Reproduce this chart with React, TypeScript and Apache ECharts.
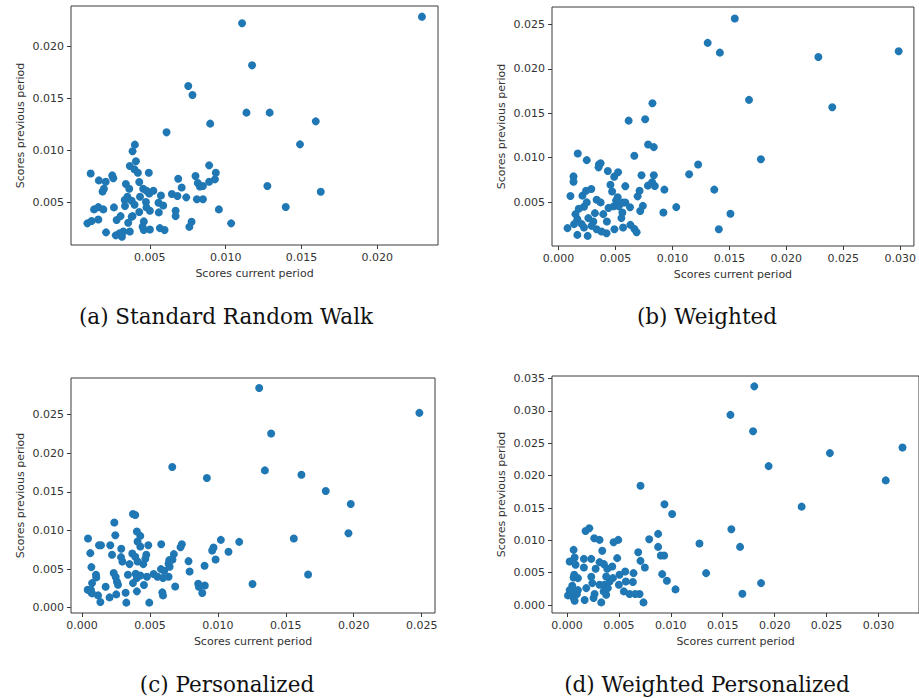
import React, { useEffect, useRef } from "react";
import * as echarts from "echarts";

// ---------- data (x = score current period, y = score previous period) ----------
const standardRW: [number, number][] = [
  [0.02294, 0.0229], [0.01108, 0.02226], [0.01174, 0.0182], [0.00753, 0.0162], [0.00781, 0.01534],
  [0.01137, 0.01363], [0.0129, 0.01363], [0.01594, 0.01279], [0.00898, 0.01257], [0.0061, 0.01173],
  [0.0149, 0.01057], [0.01275, 0.00655], [0.01627, 0.006], [0.01396, 0.00452], [0.01036, 0.00294],
  [0.00955, 0.00429], [0.00891, 0.00854], [0.00935, 0.00783], [0.00929, 0.00719], [0.00891, 0.00696],
  [0.00801, 0.00751], [0.00816, 0.00684], [0.0083, 0.0065], [0.0085, 0.00655], [0.0081, 0.00526],
  [0.0085, 0.00526], [0.00687, 0.00725], [0.0071, 0.00641], [0.00645, 0.00577], [0.00682, 0.00558],
  [0.0074, 0.00545], [0.0067, 0.00416], [0.0067, 0.00364], [0.00775, 0.0031], [0.0076, 0.0026],
  [0.00573, 0.00563], [0.00557, 0.00493], [0.00588, 0.00467], [0.00559, 0.004], [0.00566, 0.00248],
  [0.00597, 0.00229], [0.00493, 0.00783], [0.00523, 0.00609], [0.00496, 0.00583], [0.005, 0.00416],
  [0.005, 0.00235], [0.00401, 0.01054], [0.00386, 0.0099], [0.00408, 0.00893], [0.00368, 0.00848],
  [0.00399, 0.00815], [0.00421, 0.00783], [0.0043, 0.00693], [0.00342, 0.00674], [0.00364, 0.00628],
  [0.00456, 0.00628], [0.00478, 0.00609], [0.00435, 0.00551], [0.00352, 0.00551], [0.00334, 0.00519],
  [0.0038, 0.00513], [0.00399, 0.00474], [0.00336, 0.00461], [0.00474, 0.005], [0.00478, 0.00448],
  [0.0043, 0.00403], [0.00386, 0.00364], [0.00357, 0.003], [0.0046, 0.00313], [0.00452, 0.00261],
  [0.0046, 0.0023], [0.00368, 0.00216], [0.00325, 0.00216], [0.00299, 0.00197], [0.00275, 0.00178],
  [0.00281, 0.00326], [0.00307, 0.00364], [0.00263, 0.00448], [0.00252, 0.00757], [0.00259, 0.0073],
  [0.00209, 0.00696], [0.00164, 0.00709], [0.00197, 0.00628], [0.00188, 0.00602], [0.0011, 0.00776],
  [0.00132, 0.00429], [0.0016, 0.00451], [0.00193, 0.00429], [0.0016, 0.00332], [0.00116, 0.00316],
  [0.00088, 0.00294], [0.00211, 0.00207], [0.00316, 0.00165], [0.0038, 0.00358],
];

const weighted: [number, number][] = [
  [0.01547, 0.02568], [0.01309, 0.02293], [0.01416, 0.02183], [0.02986, 0.02198], [0.02281, 0.02134],
  [0.01672, 0.01651], [0.02403, 0.01568], [0.00824, 0.01613], [0.00615, 0.01417], [0.0076, 0.01432],
  [0.00786, 0.01149], [0.00836, 0.01119], [0.00665, 0.01021], [0.00168, 0.01047], [0.00247, 0.00972],
  [0.00354, 0.00923], [0.00369, 0.00938], [0.00351, 0.00891], [0.01776, 0.00983], [0.01225, 0.00923],
  [0.01146, 0.00813], [0.01367, 0.0064], [0.00929, 0.0064], [0.01033, 0.00443], [0.0092, 0.00383],
  [0.01509, 0.00368], [0.01407, 0.00194], [0.00728, 0.00802], [0.00836, 0.00802], [0.00821, 0.00723],
  [0.00784, 0.00685], [0.00845, 0.00681], [0.00711, 0.00628], [0.00694, 0.00564], [0.0074, 0.00457],
  [0.00717, 0.004], [0.00586, 0.00679], [0.00522, 0.00836], [0.00488, 0.00786], [0.00432, 0.0085],
  [0.00455, 0.00694], [0.0047, 0.00619], [0.00519, 0.00555], [0.00566, 0.00495], [0.00485, 0.00453],
  [0.00438, 0.00434], [0.00528, 0.00453], [0.00627, 0.00442], [0.0056, 0.00383], [0.00551, 0.00319],
  [0.00566, 0.00213], [0.0063, 0.00243], [0.00665, 0.00198], [0.00685, 0.0016], [0.0049, 0.00194],
  [0.00424, 0.00281], [0.00421, 0.00149], [0.00377, 0.00168], [0.00334, 0.00194], [0.00305, 0.00281],
  [0.00319, 0.00375], [0.00334, 0.00526], [0.00369, 0.00496], [0.00287, 0.00647], [0.00241, 0.00628],
  [0.00209, 0.00572], [0.00247, 0.00496], [0.00223, 0.00447], [0.00177, 0.00425], [0.00148, 0.00364],
  [0.00165, 0.00307], [0.00136, 0.00251], [0.00078, 0.00206], [0.00165, 0.0013], [0.00255, 0.00119],
  [0.00223, 0.00213], [0.00261, 0.00319], [0.00131, 0.00789], [0.00131, 0.00729], [0.00104, 0.00568],
  [0.0029, 0.00232], [0.00392, 0.00364], [0.00203, 0.00251], [0.00586, 0.00495], [0.00505, 0.00519],
];

const personalized: [number, number][] = [
  [0.01304, 0.02844], [0.02483, 0.02522], [0.01392, 0.02255], [0.00664, 0.0182], [0.01346, 0.01777],
  [0.01615, 0.01721], [0.00919, 0.01678], [0.01794, 0.0151], [0.01978, 0.01343], [0.01961, 0.00964],
  [0.01559, 0.00895], [0.01664, 0.0043], [0.01255, 0.00306], [0.01157, 0.00852], [0.01022, 0.00878],
  [0.01078, 0.00723], [0.00968, 0.00779], [0.00958, 0.0074], [0.00983, 0.00624], [0.00902, 0.00542],
  [0.00904, 0.00288], [0.00855, 0.0031], [0.0086, 0.00271], [0.00885, 0.00189], [0.00784, 0.00602],
  [0.00792, 0.00469], [0.00735, 0.00822], [0.00725, 0.00783], [0.00676, 0.00693], [0.00666, 0.00624],
  [0.00642, 0.00615], [0.00645, 0.00529], [0.00637, 0.004], [0.00686, 0.00275], [0.00583, 0.00822],
  [0.00581, 0.00499], [0.00605, 0.00478], [0.00596, 0.00383], [0.00556, 0.004], [0.00527, 0.00435],
  [0.00591, 0.00198], [0.00596, 0.00159], [0.00495, 0.00065], [0.00478, 0.004], [0.00456, 0.00293],
  [0.00488, 0.00809], [0.00473, 0.00684], [0.00466, 0.00633], [0.00451, 0.00564], [0.00429, 0.00929],
  [0.00429, 0.00792], [0.00404, 0.00985], [0.00409, 0.00856], [0.00375, 0.01213], [0.00392, 0.012],
  [0.0037, 0.00701], [0.00392, 0.00658], [0.00409, 0.00598], [0.0035, 0.00564], [0.00338, 0.00426],
  [0.00395, 0.00439], [0.00404, 0.00383], [0.00429, 0.00417], [0.00375, 0.00318], [0.00404, 0.00211],
  [0.00321, 0.00194], [0.00326, 0.00065], [0.00287, 0.00654], [0.00297, 0.00598], [0.00289, 0.00762],
  [0.00238, 0.01102], [0.00245, 0.00938], [0.00208, 0.00809], [0.00221, 0.00684], [0.00233, 0.00448],
  [0.00248, 0.00396], [0.00257, 0.00336], [0.00265, 0.00297], [0.00252, 0.00172], [0.00174, 0.00271],
  [0.00203, 0.00133], [0.00125, 0.00809], [0.0014, 0.00809], [0.00061, 0.00706], [0.00044, 0.00895],
  [0.00069, 0.00525], [0.00103, 0.00426], [0.00105, 0.00392], [0.00074, 0.00318], [0.00061, 0.00211],
  [0.00042, 0.00232], [0.00074, 0.00185], [0.00118, 0.00159], [0.00135, 0.00073], [0.00066, 0.00228],
  [0.00637, 0.00572],
];

const weightedPersonalized: [number, number][] = [
  [0.01804, 0.03381], [0.01574, 0.0294], [0.01792, 0.02688], [0.03231, 0.02436], [0.02532, 0.02349],
  [0.01942, 0.02148], [0.0307, 0.01927], [0.0226, 0.01521], [0.00708, 0.01845], [0.00939, 0.01557],
  [0.01013, 0.01408], [0.01583, 0.01172], [0.01276, 0.00951], [0.01667, 0.00899], [0.0134, 0.00493],
  [0.01869, 0.00339], [0.01689, 0.00175], [0.01045, 0.00242], [0.00878, 0.011], [0.00792, 0.01018],
  [0.00878, 0.00899], [0.00904, 0.00766], [0.00936, 0.00766], [0.00917, 0.00478], [0.00962, 0.00375],
  [0.00686, 0.00817], [0.00708, 0.00683], [0.0075, 0.00581], [0.00737, 0.00041], [0.00699, 0.0017],
  [0.00641, 0.00493], [0.00635, 0.00355], [0.00561, 0.00519], [0.00494, 0.01007], [0.00449, 0.00971],
  [0.00484, 0.00725], [0.00506, 0.00468], [0.005, 0.00313], [0.00548, 0.00211], [0.00603, 0.0017],
  [0.00657, 0.0017], [0.00567, 0.00365], [0.00436, 0.00596], [0.0041, 0.00365], [0.00378, 0.00159],
  [0.00388, 0.0056], [0.00356, 0.00632], [0.00314, 0.00663], [0.0034, 0.00838], [0.00314, 0.01007],
  [0.00263, 0.01033], [0.00215, 0.01187], [0.00179, 0.01146], [0.00276, 0.0056], [0.00234, 0.00714],
  [0.00163, 0.00714], [0.00163, 0.00581], [0.00234, 0.00437], [0.00244, 0.00339], [0.00314, 0.00313],
  [0.00362, 0.00313], [0.00353, 0.00211], [0.00266, 0.0017], [0.00256, 0.00108], [0.00186, 0.00262],
  [0.0017, 0.00077], [0.0033, 0.00041], [0.00064, 0.00853], [0.00074, 0.00735], [0.00026, 0.00673],
  [0.00083, 0.00622], [0.0007, 0.00468], [0.00064, 0.00427], [0.00106, 0.00416], [0.00051, 0.00298],
  [0.00042, 0.00211], [0.0001, 0.00149], [0.00064, 0.00108], [0.00074, 0.00067], [0.00096, 0.0017],
  [0.00106, 0.00231], [0.00026, 0.00231], [0.00442, 0.00416], [0.00378, 0.00442], [0.00394, 0.00262],
];

// ---------- tick labels ----------
const ticksAX = [0.005, 0.01, 0.015, 0.02];
const ticksAY = [0.005, 0.01, 0.015, 0.02];
const ticksBX = [0, 0.005, 0.01, 0.015, 0.02, 0.025, 0.03];
const ticksBY = [0.005, 0.01, 0.015, 0.02, 0.025];
const ticksCX = [0, 0.005, 0.01, 0.015, 0.02, 0.025];
const ticksCY = [0, 0.005, 0.01, 0.015, 0.02, 0.025];
const ticksDX = [0, 0.005, 0.01, 0.015, 0.02, 0.025, 0.03];
const ticksDY = [0, 0.005, 0.01, 0.015, 0.02, 0.025, 0.03, 0.035];

const captions = ["(a) Standard Random Walk", "(b) Weighted", "(c) Personalized", "(d) Weighted Personalized"];
const xName = "Scores current period";
const yName = "Scores previous period";

// ---------- layout ----------
const panels = [
  { data: standardRW, tx: ticksAX, ty: ticksAY, grid: { left: 71, top: 6, width: 367, height: 239 }, xr: [-0.0002, 0.024], yr: [0.00085, 0.02393], cap: [226, 316] },
  { data: weighted, tx: ticksBX, ty: ticksBY, grid: { left: 552, top: 7, width: 365, height: 239 }, xr: [-0.00058, 0.0312], yr: [0.00005, 0.02697], cap: [707, 316] },
  { data: personalized, tx: ticksCX, ty: ticksCY, grid: { left: 71, top: 378, width: 364, height: 235 }, xr: [-0.00081, 0.02598], yr: [-0.00069, 0.02973], cap: [227, 684] },
  { data: weightedPersonalized, tx: ticksDX, ty: ticksDY, grid: { left: 552, top: 376, width: 368, height: 237 }, xr: [-0.00144, 0.0339], yr: [-0.00123, 0.03541], cap: [707, 684] },
];

const TEXT = "#333333";
const AXIS = "#3a3a3a";
const fmt = (v: number) => v.toFixed(3);

export default function App() {
  const ref = useRef<HTMLDivElement>(null);
  useEffect(() => {
    if (!ref.current) return;
    const chart = echarts.init(ref.current, undefined, { renderer: "svg" });
    const option: any = {
      animation: false,
      backgroundColor: "#ffffff",
      grid: panels.map((p) => ({
        ...p.grid,
        show: true,
        borderColor: AXIS,
        borderWidth: 1,
        backgroundColor: "transparent",
        containLabel: false,
      })),
      xAxis: panels.map((p, i) => ({
        type: "value",
        gridIndex: i,
        position: "bottom",
        min: p.xr[0],
        max: p.xr[1],
        name: xName,
        nameLocation: "middle",
        nameGap: 23,
        nameTextStyle: { fontFamily: "DejaVu Sans", fontSize: 11, color: TEXT },
        axisLine: { show: false, onZero: false },
        axisTick: { show: true, inside: false, length: 4, lineStyle: { color: AXIS }, customValues: p.tx },
        axisLabel: { show: true, fontFamily: "DejaVu Sans", fontSize: 11, color: TEXT, margin: 7, formatter: fmt, customValues: p.tx },
        splitLine: { show: false },
      })),
      yAxis: panels.map((p, i) => ({
        type: "value",
        gridIndex: i,
        position: "left",
        min: p.yr[0],
        max: p.yr[1],
        name: yName,
        nameLocation: "middle",
        nameGap: 45,
        nameTextStyle: { fontFamily: "DejaVu Sans", fontSize: 11, color: TEXT },
        axisLine: { show: false, onZero: false },
        axisTick: { show: true, inside: false, length: 4, lineStyle: { color: AXIS }, customValues: p.ty },
        axisLabel: { show: true, fontFamily: "DejaVu Sans", fontSize: 11, color: TEXT, margin: 7, formatter: fmt, customValues: p.ty },
        splitLine: { show: false },
      })),
      series: panels.map((p, i) => ({
        type: "scatter",
        xAxisIndex: i,
        yAxisIndex: i,
        data: p.data,
        symbol: "circle",
        symbolSize: 8,
        itemStyle: { color: "#1f77b4", opacity: 1 },
        emphasis: { disabled: true },
      })),
      graphic: panels.map((p, i) => ({
        type: "text",
        x: p.cap[0],
        y: p.cap[1],
        style: {
          text: captions[i],
          fontFamily: "DejaVu Serif",
          fontSize: 21.5,
          fill: "#111111",
          textAlign: "center",
          textVerticalAlign: "middle",
        },
      })),
    };
    chart.setOption(option);
    return () => chart.dispose();
  }, []);
  return <div ref={ref} style={{ position: "fixed", left: 0, top: 0, width: 919, height: 698, background: "#fff" }} />;
}
